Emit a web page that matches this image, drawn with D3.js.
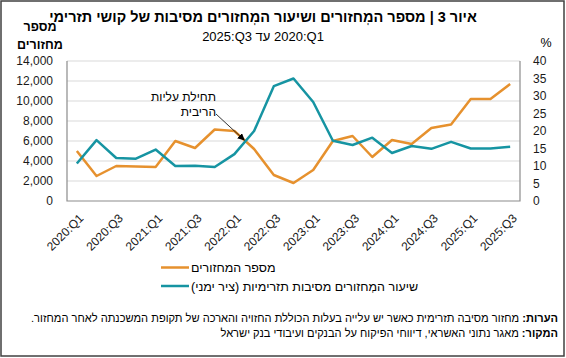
<!DOCTYPE html>
<html>
<head>
<meta charset="utf-8">
<script src="https://cdn.jsdelivr.net/npm/d3@7"></script>
<style>
  body { margin: 0; background: #fff; }
  svg { display: block; font-family: "Liberation Sans", Arial, sans-serif; }
  .grid line { stroke: #d9d9d9; stroke-width: 1; }
  .frame { stroke: #8c8c8c; stroke-width: 1.2; fill: none; }
  .tick text { font-size: 12px; fill: #1a1a1a; }
</style>
</head>
<body>
<svg id="chart"></svg>
<script>
// quarters on the x axis
var quarters = ['2020:Q1', '2020:Q2', '2020:Q3', '2020:Q4', '2021:Q1', '2021:Q2', '2021:Q3', '2021:Q4',
  '2022:Q1', '2022:Q2', '2022:Q3', '2022:Q4', '2023:Q1', '2023:Q2', '2023:Q3', '2023:Q4',
  '2024:Q1', '2024:Q2', '2024:Q3', '2024:Q4', '2025:Q1', '2025:Q2', '2025:Q3']
var xTickLabels = ['2020:Q1', '2020:Q3', '2021:Q1', '2021:Q3', '2022:Q1', '2022:Q3',
  '2023:Q1', '2023:Q3', '2024:Q1', '2024:Q3', '2025:Q1', '2025:Q3']
// number of refinancings (left axis)
var refinancings = [5000, 2500, 3500, 3450, 3400, 6000, 5300, 7150, 7000, 5200, 2600, 1800,
  3100, 6000, 6500, 4400, 6100, 5700, 7300, 7650, 10200, 10200, 11700]
// share of refinancings for cash-flow reasons, % (right axis)
var cashflowShare = [10.7, 17.4, 12.3, 12.1, 14.7, 10.0, 10.1, 9.7, 13.4, 20.0, 32.8, 35.0,
  28.3, 17.2, 16.0, 18.1, 13.7, 15.7, 14.9, 16.9, 15.0, 15.0, 15.5]
var leftTicks = [0, 2000, 4000, 6000, 8000, 10000, 12000, 14000]
var rightTicks = [0, 5, 10, 15, 20, 25, 30, 35, 40]

var width = 566, height = 358
var plot = { left: 67, right: 520, top: 61, bottom: 201 }
var orange = '#e6912e', teal = '#1694a2'

var svg = d3.select('#chart').attr('width', width).attr('height', height)

// outer frame
svg.append('rect')
  .attr('x', 1).attr('y', 1).attr('width', width - 3).attr('height', height - 3)
  .attr('fill', 'none').attr('stroke', '#404040').attr('stroke-width', 1.5)

var x = d3.scalePoint().domain(quarters).range([plot.left, plot.right]).padding(0.5)
var yL = d3.scaleLinear().domain([0, 14000]).range([plot.bottom, plot.top])
var yR = d3.scaleLinear().domain([0, 40]).range([plot.bottom, plot.top])

// gridlines
svg.append('g').attr('class', 'grid')
  .selectAll('line').data(leftTicks.slice(1)).enter().append('line')
  .attr('x1', plot.left).attr('x2', plot.right)
  .attr('y1', function(d) { return yL(d) }).attr('y2', function(d) { return yL(d) })

// plot frame (left, bottom, right)
svg.append('path').attr('class', 'frame')
  .attr('d', d3.line()([[plot.left, plot.top], [plot.left, plot.bottom], [plot.right, plot.bottom], [plot.right, plot.top]]))

// axes
var leftAxis = svg.append('g')
  .attr('transform', 'translate(' + plot.left + ',0)')
  .call(d3.axisLeft(yL).tickValues(leftTicks).tickSize(0).tickPadding(14).tickFormat(d3.format(',')))
leftAxis.select('.domain').remove()

var rightAxis = svg.append('g')
  .attr('transform', 'translate(' + plot.right + ',0)')
  .call(d3.axisRight(yR).tickValues(rightTicks).tickSize(0).tickPadding(13))
rightAxis.select('.domain').remove()

var bottomAxis = svg.append('g')
  .attr('transform', 'translate(0,' + plot.bottom + ')')
  .call(d3.axisBottom(x).tickValues(xTickLabels).tickSize(0))
bottomAxis.select('.domain').remove()
bottomAxis.selectAll('text')
  .attr('text-anchor', 'end')
  .attr('x', 0).attr('y', 0).attr('dy', '0.35em')
  .attr('transform', 'translate(4,15) rotate(-45)')

// series lines
var lineL = d3.line()
  .x(function(d, i) { return x(quarters[i]) })
  .y(function(d) { return yL(d) })
var lineR = d3.line()
  .x(function(d, i) { return x(quarters[i]) })
  .y(function(d) { return yR(d) })

svg.append('path').attr('d', lineL(refinancings))
  .attr('fill', 'none').attr('stroke', orange).attr('stroke-width', 2.5).attr('stroke-linejoin', 'round')
svg.append('path').attr('d', lineR(cashflowShare))
  .attr('fill', 'none').attr('stroke', teal).attr('stroke-width', 2.5).attr('stroke-linejoin', 'round')

// annotation: start of rate hikes
svg.append('defs').append('marker')
  .attr('id', 'arrow').attr('viewBox', '0 0 10 10').attr('refX', 9).attr('refY', 5)
  .attr('markerWidth', 9).attr('markerHeight', 9).attr('orient', 'auto')
  .append('path').attr('d', 'M0,0 L10,5 L0,10 z').attr('fill', '#000')

var tipX = (x(quarters[8]) + x(quarters[9])) / 2
var tipY = yR(17.4)
svg.append('line')
  .attr('x1', 216).attr('y1', 114).attr('x2', tipX).attr('y2', tipY)
  .attr('stroke', '#000').attr('stroke-width', 0.8).attr('marker-end', 'url(#arrow)')

var annot = svg.append('text')
  .attr('direction', 'rtl').attr('text-anchor', 'start')
  .style('font-size', '12px').attr('fill', '#000')
annot.append('tspan').attr('x', 216).attr('y', 101).text('תחילת עליות')
annot.append('tspan').attr('x', 216).attr('y', 116).text('הריבית')

// titles
svg.append('text')
  .attr('x', 263).attr('y', 22).attr('text-anchor', 'middle').attr('direction', 'rtl')
  .style('font-size', '14.5px').style('font-weight', 'bold')
  .text('איור 3 | מספר המְחזורים ושיעור המְחזורים מסיבות של קושי תזרימי')
svg.append('text')
  .attr('x', 263).attr('y', 41).attr('text-anchor', 'middle').attr('direction', 'rtl')
  .style('font-size', '13px')
  .text('\u202A2020:Q1\u202C עד \u202A2025:Q3\u202C')

var yTitle = svg.append('text')
  .attr('text-anchor', 'middle').attr('direction', 'rtl')
  .style('font-size', '12.5px').style('font-weight', 'bold')
yTitle.append('tspan').attr('x', 40).attr('y', 31).text('מספר')
yTitle.append('tspan').attr('x', 40).attr('y', 49).text('מחזורים')

svg.append('text')
  .attr('x', 546).attr('y', 47).attr('text-anchor', 'middle')
  .style('font-size', '12.5px').text('%')

// legend
var legendItems = [
  { label: 'מספר המחזורים', color: orange, y: 267.5 },
  { label: 'שיעור המְחזורים מסיבות תזרימיות (ציר ימני)', color: teal, y: 286 }
]
var legend = svg.selectAll('g.legend').data(legendItems).enter().append('g').attr('class', 'legend')
legend.append('line')
  .attr('x1', 161).attr('x2', 189)
  .attr('y1', function(d) { return d.y }).attr('y2', function(d) { return d.y })
  .attr('stroke', function(d) { return d.color }).attr('stroke-width', 2.5)
legend.append('text')
  .attr('direction', 'rtl').attr('text-anchor', 'end')
  .attr('x', 191).attr('y', function(d) { return d.y + 4.5 })
  .style('font-size', '12.5px')
  .text(function(d) { return d.label })

// notes and source
var notes = [
  { head: 'הערות:', body: ' מחזור מסיבה תזרימית כאשר יש עלייה בעלות הכוללת החזויה והארכה של תקופת המשכנתה לאחר המחזור.', y: 322 },
  { head: 'המקור:', body: ' מאגר נתוני האשראי, דיווחי הפיקוח על הבנקים ועיבודי בנק ישראל', y: 337 }
]
notes.forEach(function(n) {
  var t = svg.append('text')
    .attr('direction', 'rtl').attr('text-anchor', 'start')
    .attr('x', 558).attr('y', n.y).style('font-size', '11.1px')
  t.append('tspan').style('font-weight', 'bold').text(n.head)
  t.append('tspan').text(n.body)
})
</script>
</body>
</html>
